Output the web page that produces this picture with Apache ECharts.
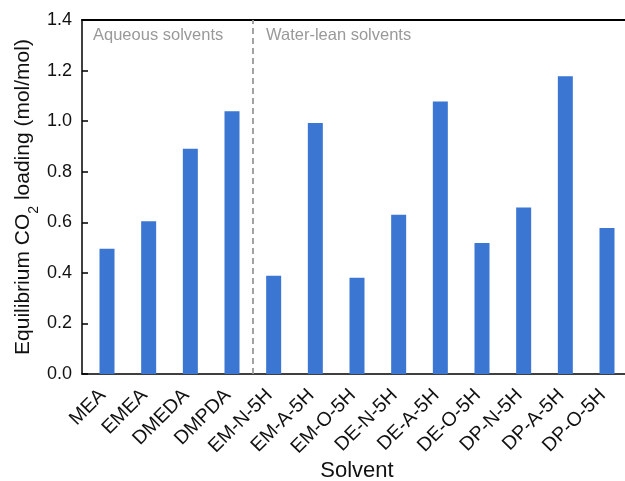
<!DOCTYPE html>
<html>
<head>
<meta charset="utf-8">
<script src="https://cdn.jsdelivr.net/npm/echarts@6/dist/echarts.min.js"></script>
<style>
  html, body { margin: 0; padding: 0; background: #fff; }
  #chart { width: 625px; height: 481px; }
</style>
</head>
<body>
<div id="chart"></div>
<script>
// Solvent names along the x axis
const solvents = ['MEA', 'EMEA', 'DMEDA', 'DMPDA', 'EM-N-5H', 'EM-A-5H', 'EM-O-5H',
                  'DE-N-5H', 'DE-A-5H', 'DE-O-5H', 'DP-N-5H', 'DP-A-5H', 'DP-O-5H'];
// Equilibrium CO2 loading, mol/mol
const loading = [0.495, 0.604, 0.891, 1.039, 0.389, 0.993, 0.381,
                 0.630, 1.078, 0.518, 0.658, 1.178, 0.577];
// Value-axis ticks
const yTicks = [0, 0.2, 0.4, 0.6, 0.8, 1.0, 1.2, 1.4];
// Group labels and the boundary between the groups
const groupNames = ['Aqueous solvents', 'Water-lean solvents'];
const groupBoundary = 3.5;

const positions = solvents.map((_, i) => i);
const font = 'Liberation Sans, Arial, sans-serif';

const chart = echarts.init(document.getElementById('chart'), null, { renderer: 'canvas' });

chart.setOption({
  animation: false,
  backgroundColor: '#fff',
  // the frame runs a little past the right edge of the canvas
  grid: { left: 82, right: -7, top: 20, bottom: 107, containLabel: false, outerBoundsMode: 'none' },
  xAxis: [{
    type: 'value',
    min: -0.6,
    max: 12.6,
    name: 'Solvent',
    nameLocation: 'middle',
    nameGap: 86,
    nameMoveOverlap: false,
    nameTextStyle: { fontSize: 22, color: '#111', fontFamily: font },
    splitLine: { show: false },
    axisLine: { show: true, onZero: false, lineStyle: { color: '#000', width: 1.5 } },
    axisTick: { show: true, inside: true, length: 6, customValues: positions,
                lineStyle: { color: '#000', width: 1.5 } },
    axisLabel: {
      customValues: positions,
      rotate: 45,
      margin: 14,
      padding: [0, 6, 0, 0],
      fontSize: 19.5,
      color: '#111',
      fontFamily: font,
      formatter: v => solvents[Math.round(v)]
    }
  }, {
    type: 'value',
    position: 'top',
    min: -0.6,
    max: 12.6,
    axisLine: { show: true, onZero: false, lineStyle: { color: '#000', width: 2 } },
    axisTick: { show: false },
    axisLabel: { show: false },
    splitLine: { show: false }
  }],
  yAxis: {
    type: 'value',
    min: yTicks[0],
    max: yTicks[yTicks.length - 1],
    interval: 0.2,
    name: '{t|Equilibrium CO}{s|2}{t| loading (mol/mol)}',
    nameLocation: 'middle',
    nameGap: 48,
    nameMoveOverlap: false,
    nameTextStyle: {
      rich: {
        t: { fontSize: 21, color: '#111', fontFamily: font },
        s: { fontSize: 14, color: '#111', fontFamily: font, verticalAlign: 'bottom', padding: [0, 0, -7, 0] }
      }
    },
    splitLine: { show: false },
    axisLine: { show: true, onZero: false, lineStyle: { color: '#000', width: 1.5 } },
    axisTick: { show: true, inside: true, length: 6, lineStyle: { color: '#000', width: 1.5 } },
    axisLabel: {
      fontSize: 18,
      color: '#111',
      margin: 10,
      fontFamily: font,
      formatter: v => v.toFixed(1)
    }
  },
  series: [{
    type: 'bar',
    barWidth: 15,
    itemStyle: { color: '#3a76d2' },
    data: loading.map((v, i) => [i, v]),
    markLine: {
      silent: true,
      symbol: 'none',
      label: { show: false },
      lineStyle: { color: '#999', type: [6, 4], width: 1.8 },
      data: [{ xAxis: groupBoundary }]
    },
    z: 2
  }],
  graphic: [
    { type: 'text', left: 93, top: 27,
      style: { text: groupNames[0], fill: '#999', fontSize: 16.5, fontFamily: font } },
    { type: 'text', left: 266, top: 27,
      style: { text: groupNames[1], fill: '#999', fontSize: 16.5, fontFamily: font } }
  ]
});
</script>
</body>
</html>
